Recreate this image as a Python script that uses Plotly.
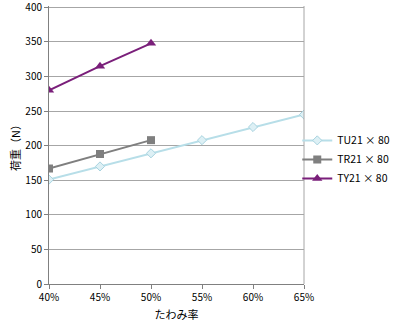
import plotly.graph_objects as go

x_all = [0.40, 0.45, 0.50, 0.55, 0.60, 0.65]
x_short = [0.40, 0.45, 0.50]
tu_vals = [151, 170, 189, 208, 227, 245]
tr_vals = [167, 188, 208]
ty_vals = [280, 315, 348]
names = ["TU21 × 80", "TR21 × 80", "TY21 × 80"]
y_ticks = [0, 50, 100, 150, 200, 250, 300, 350, 400]

font = "Noto Sans CJK JP, sans-serif"
fig = go.Figure()
fig.add_trace(go.Scatter(x=x_all, y=tu_vals, name=names[0], mode="lines+markers",
                         line=dict(color="#B7DEE8", width=2),
                         marker=dict(symbol="diamond", size=7, color="#DDF0F5",
                                     line=dict(color="#A8D3DF", width=1))))
fig.add_trace(go.Scatter(x=x_short, y=tr_vals, name=names[1], mode="lines+markers",
                         line=dict(color="#7F7F7F", width=2),
                         marker=dict(symbol="square", size=8, color="#7F7F7F")))
fig.add_trace(go.Scatter(x=x_short, y=ty_vals, name=names[2], mode="lines+markers",
                         line=dict(color="#7A1F7A", width=2),
                         marker=dict(symbol="triangle-up", size=9, color="#7A1F7A")))

fig.update_layout(
    width=399, height=322,
    margin=dict(l=49, r=95, t=6, b=38, autoexpand=False),
    paper_bgcolor="white", plot_bgcolor="white",
    font=dict(family=font, size=10, color="black"),
    showlegend=True,
    legend=dict(xref="container", yref="container", x=0.745, y=0.505,
                xanchor="left", yanchor="middle",
                font=dict(size=10.5), tracegroupgap=0, itemwidth=30,
                bgcolor="rgba(0,0,0,0)"),
    xaxis=dict(range=[0.40, 0.65], tickvals=x_all, tickformat=".0%",
               showgrid=False, showline=True, linecolor="#808080", linewidth=1,
               ticks="outside", ticklen=4, tickcolor="#808080", mirror=False,
               zeroline=False, automargin=False,
               title=dict(text="たわみ率", font=dict(size=11), standoff=8)),
    yaxis=dict(range=[0, 402], tickvals=y_ticks, showgrid=True,
               gridcolor="#A6A6A6", gridwidth=1,
               showline=True, linecolor="#808080", linewidth=1,
               ticks="outside", ticklen=4, tickcolor="#808080",
               ticklabeloverflow="allow",
               zeroline=False, automargin=False,
               title=dict(text="荷重（N）", font=dict(size=11), standoff=2)),
)
fig.add_shape(type="line", xref="paper", yref="paper", x0=1, x1=1, y0=0, y1=1,
              line=dict(color="#A6A6A6", width=1))
fig.write_html("out.html")
